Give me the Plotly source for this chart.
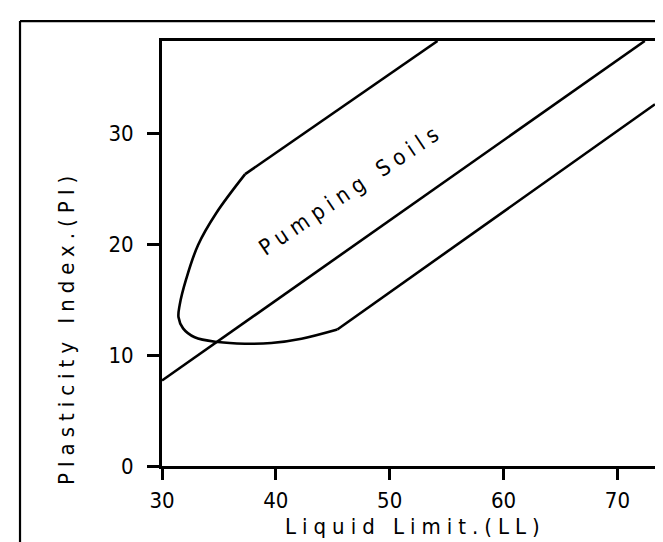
import plotly.graph_objects as go

# ---- data ----
x_ticks = [30, 40, 50, 60, 70]
y_ticks = [0, 10, 20, 30]

# A-line type middle line
mid_ll = [30.0, 72.4]
mid_pi = [7.7, 38.3]

# upper straight boundary
upper_ll = [37.3, 54.2]
upper_pi = [26.3, 38.3]

# curved nose of the pumping-soils zone
curve_ll = [37.3, 34.77, 33.16, 32.14, 31.55, 31.45, 31.85, 32.87,
            34.92, 37.27, 39.6, 42.25, 45.4]
curve_pi = [26.3, 22.8, 19.9, 16.9, 14.5, 13.4, 12.4, 11.6,
            11.17, 11.02, 11.08, 11.47, 12.3]

# lower straight boundary
lower_ll = [45.4, 73.3]
lower_pi = [12.3, 32.6]

label_text = "Pumping Soils"
label_ll, label_pi = 46.6, 24.9

x_title = "Liquid Limit.(LL)"
y_title = "Plasticity Index.(PI)"

x_range = [30, 73.3]
y_range = [0, 38.3]

FONT = "Liberation Sans Narrow, DejaVu Sans Condensed, sans-serif"
LW = 2.6
SPACED = '<span style="letter-spacing:6px">{}</span>'

fig = go.Figure()
for xs, ys, shape in [(mid_ll, mid_pi, "linear"), (upper_ll, upper_pi, "linear"),
                      (curve_ll, curve_pi, "spline"), (lower_ll, lower_pi, "linear")]:
    fig.add_trace(go.Scatter(x=xs, y=ys, mode="lines",
                             line=dict(color="black", width=LW, shape=shape),
                             showlegend=False, hoverinfo="skip"))

fig.add_annotation(x=label_ll, y=label_pi, xref="x", yref="y",
                   text=SPACED.format(label_text),
                   showarrow=False, textangle=-34,
                   font=dict(family=FONT, size=22, color="black"))

fig.add_annotation(x=0.515, y=-0.1435, xref="paper", yref="paper",
                   text=SPACED.format(x_title),
                   showarrow=False, xanchor="center", yanchor="middle",
                   font=dict(family=FONT, size=22, color="black"))
fig.add_annotation(x=-0.195, y=0.327, xref="paper", yref="paper",
                   text=SPACED.format(y_title),
                   showarrow=False, textangle=-90, xanchor="center", yanchor="middle",
                   font=dict(family=FONT, size=22, color="black"))

# outer frame (left and top edges)
fig.add_shape(type="line", xref="paper", yref="paper",
              x0=-0.288, x1=-0.288, y0=1.047, y1=-0.25,
              line=dict(color="black", width=2.2))
fig.add_shape(type="line", xref="paper", yref="paper",
              x0=-0.288, x1=1.06, y0=1.047, y1=1.047,
              line=dict(color="black", width=2.2))

axis_common = dict(showgrid=False, zeroline=False, showline=True, linecolor="black",
                   linewidth=3, mirror=True, ticks="outside", tickcolor="black",
                   tickwidth=3, tickfont=dict(family=FONT, size=22, color="black"))

fig.update_xaxes(range=x_range, tickvals=x_ticks, ticklen=11,
                 ticklabelstandoff=2, **axis_common)
fig.update_yaxes(range=y_range, tickvals=y_ticks, ticklen=12,
                 ticklabelstandoff=9, **axis_common)

fig.update_layout(width=663, height=542,
                  margin=dict(l=154, r=16, t=33, b=84),
                  plot_bgcolor="white", paper_bgcolor="white")

fig.write_html("out.html")
